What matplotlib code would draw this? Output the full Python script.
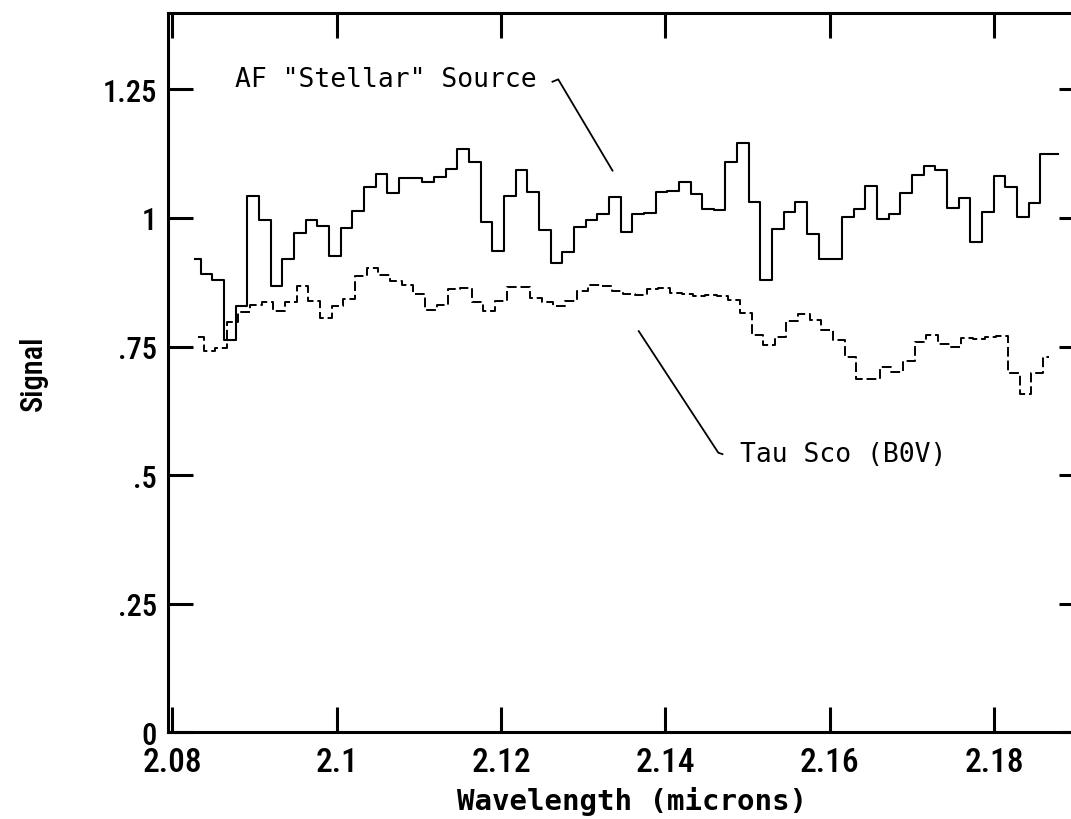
import numpy as np
import matplotlib
matplotlib.use("Agg")
import matplotlib.pyplot as plt
import matplotlib.ticker as mticker

# ── Spectra ───────────────────────────────────────────────────────────────────
# Both spectra are sampled on the same channel width; the two grids are
# offset by a fraction of a channel.
WL0_AF  = 2.08276      # centre of first channel, AF "stellar" source (microns)
WL0_TAU = 2.08309      # centre of first channel, Tau Sco (microns)
DWL     = 0.001419     # channel width (microns)

signal_af = [
    0.920, 0.892, 0.879, 0.762, 0.829, 1.043, 0.997, 0.868, 0.920, 0.971,
    0.996, 0.984, 0.926, 0.980, 1.013, 1.061, 1.085, 1.048, 1.077, 1.077,
    1.070, 1.080, 1.095, 1.135, 1.109, 0.992, 0.935, 1.043, 1.093, 1.051,
    0.977, 0.913, 0.933, 0.983, 0.997, 1.007, 1.041, 0.973, 1.007, 1.009,
    1.050, 1.053, 1.069, 1.047, 1.018, 1.015, 1.109, 1.145, 1.032, 0.879,
    0.978, 1.012, 1.031, 0.968, 0.920, 0.921, 1.002, 1.017, 1.062, 0.999,
    1.007, 1.049, 1.083, 1.102, 1.093, 1.019, 1.038, 0.953, 1.012, 1.082,
    1.060, 1.001, 1.030, 1.124, 1.124,
]

signal_tau = [
    0.768, 0.742, 0.748, 0.797, 0.818, 0.830, 0.837, 0.819, 0.836, 0.868,
    0.838, 0.805, 0.829, 0.843, 0.887, 0.903, 0.889, 0.878, 0.870, 0.853,
    0.822, 0.830, 0.861, 0.863, 0.837, 0.819, 0.838, 0.865, 0.866, 0.845,
    0.837, 0.829, 0.838, 0.859, 0.870, 0.868, 0.859, 0.853, 0.850, 0.862,
    0.863, 0.855, 0.852, 0.848, 0.851, 0.849, 0.841, 0.816, 0.772, 0.754,
    0.769, 0.800, 0.813, 0.802, 0.783, 0.763, 0.729, 0.686, 0.687, 0.710,
    0.700, 0.722, 0.758, 0.772, 0.755, 0.749, 0.767, 0.764, 0.768, 0.770,
    0.698, 0.657, 0.698, 0.730,
]

wl_af  = WL0_AF  + DWL * np.arange(len(signal_af))
wl_tau = WL0_TAU + DWL * np.arange(len(signal_tau))

X_TICKS = [2.08, 2.10, 2.12, 2.14, 2.16, 2.18]
Y_TICKS = [0, 0.25, 0.5, 0.75, 1.0, 1.25]

LABEL_AF  = 'AF "Stellar" Source'
LABEL_TAU = "Tau Sco (B0V)"

# ── Style ─────────────────────────────────────────────────────────────────────
# narrow face for the numbers; first one installed wins
plt.rcParams["font.family"] = ["Roboto Condensed", "DejaVu Sans Condensed",
                               "Liberation Sans Narrow", "Open Sans Condensed",
                               "DejaVu Sans"]
plt.rcParams["font.stretch"] = "condensed"
plt.rcParams["font.weight"] = "medium"
MONO = ["DejaVu Sans Mono", "DejaVu Sans"]

fig = plt.figure(figsize=(10.71, 8.2), dpi=100)
# right spine sits just past the edge of the canvas
ax = fig.add_axes([0.1571, 0.1057, 0.8550, 0.8772])

ax.step(wl_af, signal_af, where="mid", color="black", lw=1.5)
ax.step(wl_tau, signal_tau, where="mid", color="black", lw=1.4,
        linestyle=(0, (5, 2)))

ax.set_xlim(2.07951, 2.19095)
ax.set_ylim(0, 1.3985)

ax.xaxis.set_major_locator(mticker.FixedLocator(X_TICKS))
ax.yaxis.set_major_locator(mticker.FixedLocator(Y_TICKS))


def fmt_y(v, _):
    s = f"{v:g}"
    return s[1:] if s.startswith("0.") else s


ax.xaxis.set_major_formatter(mticker.FuncFormatter(lambda v, _: f"{v:g}"))
ax.yaxis.set_major_formatter(mticker.FuncFormatter(fmt_y))

ax.tick_params(direction="in", length=18, width=2.2, top=True, right=True)
ax.tick_params(axis="x", pad=10, labelsize=24)
ax.tick_params(axis="y", pad=8, labelsize=22)
for spine in ax.spines.values():
    spine.set_linewidth(2.2)

ax.set_xlabel("Wavelength (microns)", fontsize=21, family=MONO,
              fontweight="bold", fontstretch="normal")
ax.xaxis.set_label_coords(0.5064, -0.074)
ax.set_ylabel("Signal", fontsize=22, fontweight="medium")
ax.yaxis.set_label_coords(-0.131, 0.501)

# Labels with leader lines
ax.text(2.08763, 1.2559, LABEL_AF, family=MONO, fontweight="normal",
        fontstretch="normal", fontsize=19, ha="left", va="baseline")
ax.plot([2.12617, 2.12697, 2.13363], [1.2643, 1.2695, 1.0906],
        color="black", lw=1.3, solid_capstyle="butt")

ax.text(2.14909, 0.5273, LABEL_TAU, family=MONO, fontweight="normal",
        fontstretch="normal", fontsize=19, ha="left", va="baseline")
ax.plot([2.13671, 2.14645, 2.14706], [0.7814, 0.5436, 0.5403],
        color="black", lw=1.3, solid_capstyle="butt")

fig.savefig("out.png", dpi=100)
plt.close(fig)
